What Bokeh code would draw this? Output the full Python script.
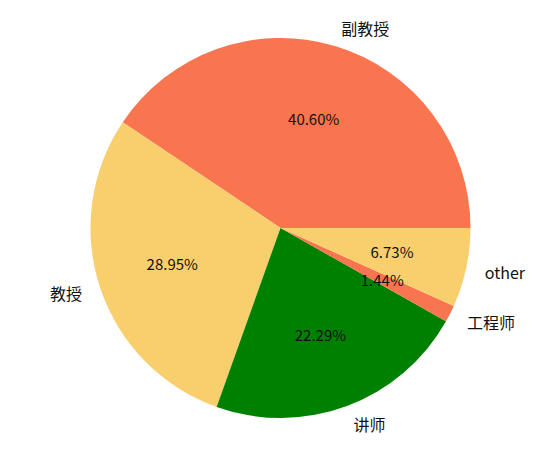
import math
from bokeh.plotting import figure
from bokeh.models import Range1d, ColumnDataSource
from bokeh.core.properties import value
from bokeh.embed import file_html
from bokeh.resources import INLINE

categories = ["副教授", "教授", "讲师", "工程师", "other"]
percents = [40.60, 28.95, 22.29, 1.44, 6.73]
colors = ["#F97550", "#F9CF6D", "#008000", "#F97550", "#F9CF6D"]

total = sum(percents)
starts, ends = [], []
acc = 0.0
for v in percents:
    starts.append(2 * math.pi * acc / total)
    acc += v
    ends.append(2 * math.pi * acc / total)
mids = [(s + e) / 2 for s, e in zip(starts, ends)]

src = ColumnDataSource(dict(start=starts, end=ends, color=colors))

p = figure(width=537, height=453, output_backend="svg", toolbar_location=None,
           x_range=Range1d(-1.4737, 1.3526), y_range=Range1d(-1.1868, 1.1974),
           min_border=0)
p.axis.visible = False
p.grid.visible = False
p.outline_line_color = None

p.wedge(x=0, y=0, radius=1.0, start_angle="start", end_angle="end",
        color="color", line_color=None, source=src)

lx = [1.1 * math.cos(m) for m in mids]
ly = [1.1 * math.sin(m) for m in mids]
align = ["left" if x > 0 else "right" for x in lx]
lab = ColumnDataSource(dict(x=lx, y=ly, t=categories, a=align))
p.text(x="x", y="y", text="t", text_align="a", text_baseline="middle",
       text_font=value("Noto Sans CJK SC"), text_font_size="16px",
       text_color="#111111", source=lab)

px = [0.6 * math.cos(m) for m in mids]
py = [0.6 * math.sin(m) for m in mids]
pct = ColumnDataSource(dict(x=px, y=py, t=["%.2f%%" % v for v in percents]))
p.text(x="x", y="y", text="t", text_align="center", text_baseline="middle",
       text_font=value("Noto Sans CJK SC"), text_font_size="15px",
       text_color="#111111", source=pct)

open("out.html", "w").write(file_html(p, INLINE))
